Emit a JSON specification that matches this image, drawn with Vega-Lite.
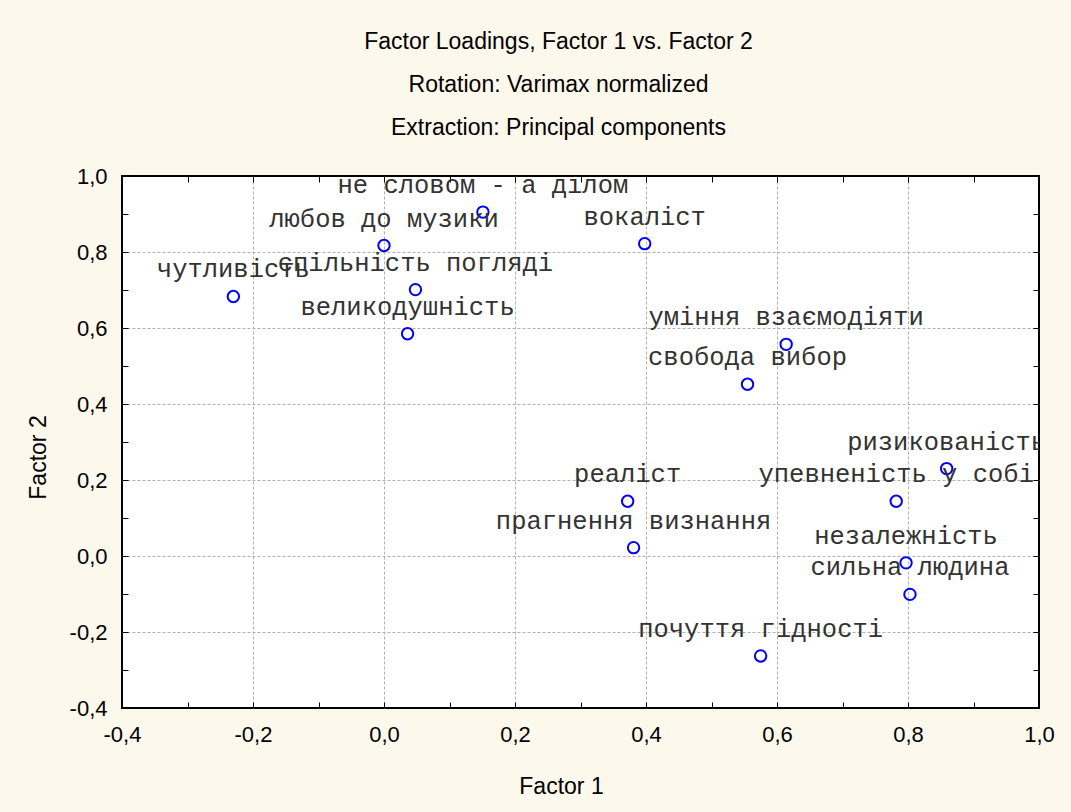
{
  "$schema": "https://vega.github.io/schema/vega-lite/v6.json",
  "width": 917,
  "height": 532,
  "autosize": {"type": "none"},
  "padding": {"left": 122, "top": 176, "right": 32, "bottom": 104},
  "background": "#FDF8EC",
  "title": {
    "text": ["Factor Loadings, Factor 1 vs. Factor 2", "Rotation: Varimax normalized", "Extraction: Principal components"],
    "font": "Liberation Sans",
    "fontSize": 23,
    "fontWeight": "normal",
    "color": "#000000",
    "lineHeight": 43,
    "anchor": "middle",
    "baseline": "bottom",
    "offset": 2,
    "dx": -22
  },
  "config": {
    "view": {"stroke": "#000000", "strokeWidth": 2, "fill": "#FFFFFF"}
  },
  "data": {
    "values": [
      {"label": "чутливість", "f1": -0.230, "f2": 0.683},
      {"label": "любов до музики", "f1": 0.000, "f2": 0.817},
      {"label": "не словом - а ділом", "f1": 0.151, "f2": 0.905},
      {"label": "спільність погляді", "f1": 0.048, "f2": 0.701},
      {"label": "великодушність", "f1": 0.036, "f2": 0.585},
      {"label": "вокаліст", "f1": 0.398, "f2": 0.822},
      {"label": "уміння взаємодіяти", "f1": 0.614, "f2": 0.557},
      {"label": "свобода вибор", "f1": 0.555, "f2": 0.452},
      {"label": "ризикованість", "f1": 0.859, "f2": 0.230},
      {"label": "реаліст", "f1": 0.372, "f2": 0.144},
      {"label": "упевненість у собі", "f1": 0.782, "f2": 0.144},
      {"label": "прагнення визнання", "f1": 0.381, "f2": 0.022},
      {"label": "незалежність", "f1": 0.797, "f2": -0.018},
      {"label": "сильна людина", "f1": 0.803, "f2": -0.101},
      {"label": "почуття гідності", "f1": 0.575, "f2": -0.263}
    ]
  },
  "resolve": {"axis": {"x": "independent", "y": "independent"}},
  "layer": [
    {
      "mark": {"type": "point", "shape": "circle", "filled": false, "color": "#0000FF", "strokeWidth": 2, "size": 130, "opacity": 1},
      "encoding": {
        "x": {
          "field": "f1", "type": "quantitative",
          "scale": {"domain": [-0.4, 1.0], "nice": false, "zero": false},
          "axis": {
            "orient": "bottom",
            "values": [-0.4, -0.3, -0.2, -0.1, 0, 0.1, 0.2, 0.3, 0.4, 0.5, 0.6, 0.7, 0.8, 0.9, 1.0],
            "format": ".1f",
            "labelExpr": "abs(round(datum.value*10)) % 2 == 0 ? replace(replace(datum.label, '.', ','), '−', '-') : ''",
            "tickSize": -6, "tickColor": "#000000", "tickWidth": 1,
            "domain": false,
            "grid": true, "gridColor": "#B0B0B0", "gridDash": [3, 2], "gridWidth": 1,
            "gridOpacity": {"condition": {"test": "abs(round(datum.value*10)) % 2 == 0 && datum.value > -0.35 && datum.value < 0.95", "value": 1}, "value": 0},
            "labelFont": "Liberation Sans", "labelFontSize": 22, "labelColor": "#000000",
            "labelPadding": 22, "labelFlush": false, "labelOverlap": false,
            "title": "Factor 1", "titleFont": "Liberation Sans", "titleFontSize": 23, "titleFontWeight": "normal", "titleColor": "#000000",
            "titleX": 439, "titleY": 85, "titleBaseline": "alphabetic", "titleAlign": "center"
          }
        },
        "y": {
          "field": "f2", "type": "quantitative",
          "scale": {"domain": [-0.4, 1.0], "nice": false, "zero": false},
          "axis": {
            "orient": "left",
            "values": [-0.4, -0.3, -0.2, -0.1, 0, 0.1, 0.2, 0.3, 0.4, 0.5, 0.6, 0.7, 0.8, 0.9, 1.0],
            "format": ".1f",
            "labelExpr": "abs(round(datum.value*10)) % 2 == 0 ? replace(replace(datum.label, '.', ','), '−', '-') : ''",
            "tickSize": -6, "tickColor": "#000000", "tickWidth": 1,
            "domain": false,
            "grid": true, "gridColor": "#B0B0B0", "gridDash": [3, 2], "gridWidth": 1,
            "gridOpacity": {"condition": {"test": "abs(round(datum.value*10)) % 2 == 0 && datum.value > -0.35 && datum.value < 0.95", "value": 1}, "value": 0},
            "labelFont": "Liberation Sans", "labelFontSize": 22, "labelColor": "#000000",
            "labelPadding": 21, "labelFlush": false, "labelOverlap": false,
            "title": "Factor 2", "titleFont": "Liberation Sans", "titleFontSize": 23, "titleFontWeight": "normal", "titleColor": "#000000",
            "titleX": -77, "titleY": 281, "titleBaseline": "alphabetic", "titleAlign": "center", "titleAngle": -90
          }
        }
      }
    },
    {
      "mark": {"type": "text", "font": "Liberation Mono", "fontSize": 25.5, "color": "#333333", "baseline": "alphabetic", "align": "center", "dy": -19, "clip": true},
      "encoding": {
        "x": {"field": "f1", "type": "quantitative", "axis": null},
        "y": {"field": "f2", "type": "quantitative", "axis": null},
        "text": {"field": "label"}
      }
    },
    {
      "mark": {"type": "point", "opacity": 0},
      "encoding": {
        "x": {
          "field": "f1", "type": "quantitative",
          "axis": {
            "orient": "top",
            "values": [-0.4, -0.3, -0.2, -0.1, 0, 0.1, 0.2, 0.3, 0.4, 0.5, 0.6, 0.7, 0.8, 0.9, 1.0],
            "labels": false, "grid": false, "domain": false, "title": null,
            "tickSize": -6, "tickColor": "#000000", "tickWidth": 1
          }
        },
        "y": {
          "field": "f2", "type": "quantitative",
          "axis": {
            "orient": "right",
            "values": [-0.4, -0.3, -0.2, -0.1, 0, 0.1, 0.2, 0.3, 0.4, 0.5, 0.6, 0.7, 0.8, 0.9, 1.0],
            "labels": false, "grid": false, "domain": false, "title": null,
            "tickSize": -6, "tickColor": "#000000", "tickWidth": 1
          }
        }
      }
    }
  ]
}
